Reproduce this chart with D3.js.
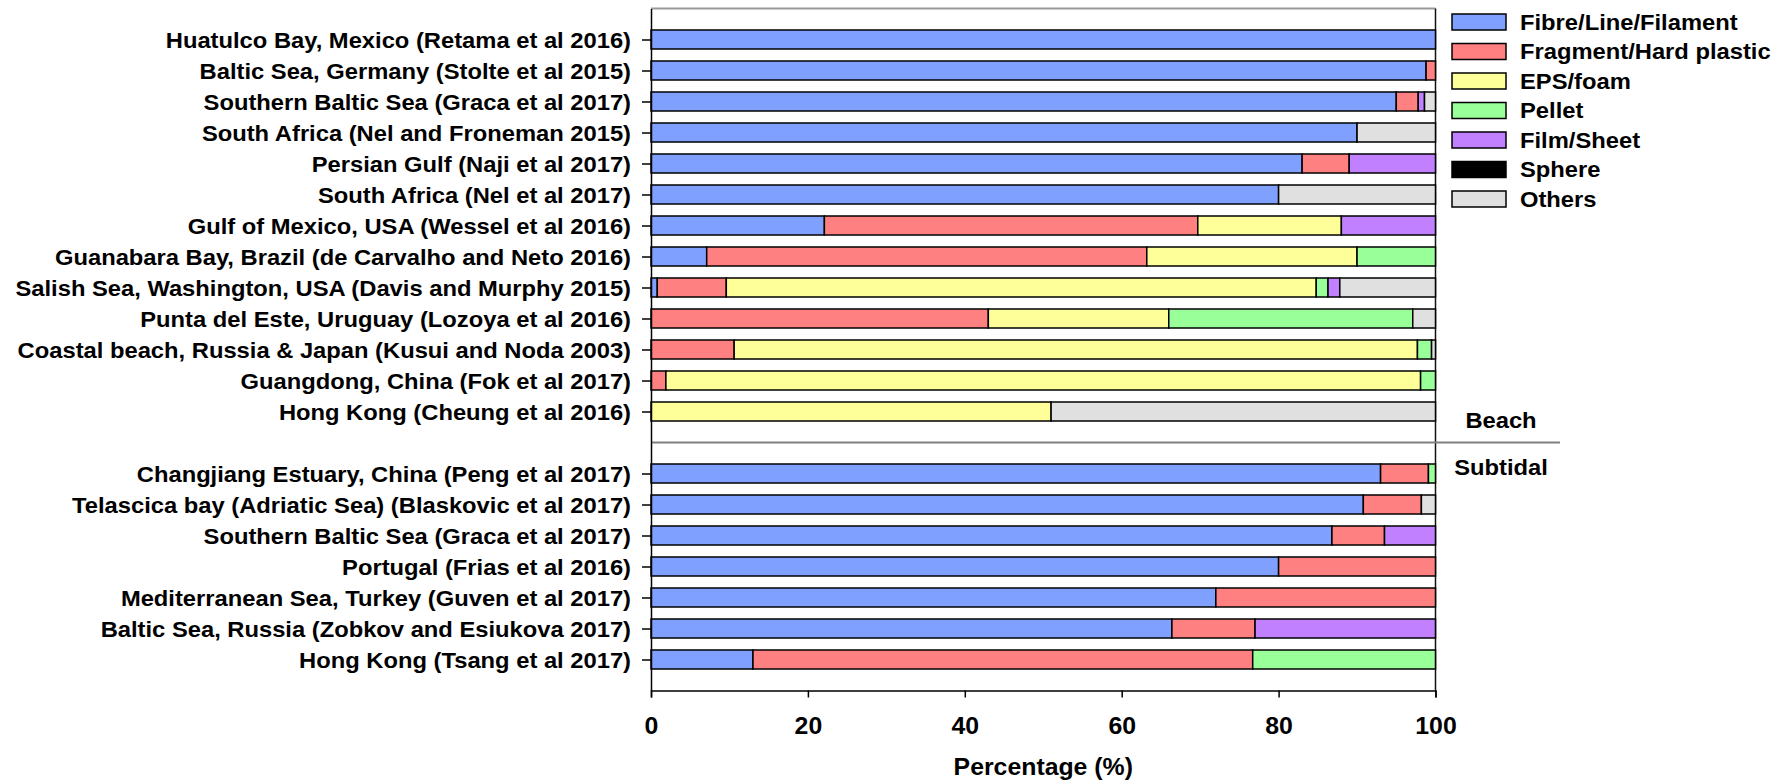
<!DOCTYPE html>
<html>
<head>
<meta charset="utf-8">
<script src="https://cdn.jsdelivr.net/npm/d3@7"></script>
<style>
  html, body { margin: 0; padding: 0; background: #fff; }
  svg { display: block; }
  text { font-family: "Liberation Sans", Arial, Helvetica, sans-serif; font-weight: bold; fill: #000; }
</style>
</head>
<body>
<svg id="chart" width="1788" height="780"></svg>
<script>
// Study locations (top to bottom): 13 beach surveys, then 7 subtidal surveys
const categories = [
  "Huatulco Bay, Mexico (Retama et al 2016)",
  "Baltic Sea, Germany (Stolte et al 2015)",
  "Southern Baltic Sea (Graca et al 2017)",
  "South Africa (Nel and Froneman 2015)",
  "Persian Gulf (Naji et al 2017)",
  "South Africa (Nel et al 2017)",
  "Gulf of Mexico, USA (Wessel et al 2016)",
  "Guanabara Bay, Brazil (de Carvalho and Neto 2016)",
  "Salish Sea, Washington, USA (Davis and Murphy 2015)",
  "Punta del Este, Uruguay (Lozoya et al 2016)",
  "Coastal beach, Russia & Japan (Kusui and Noda 2003)",
  "Guangdong, China (Fok et al 2017)",
  "Hong Kong (Cheung et al 2016)",
  "Changjiang Estuary, China (Peng et al 2017)",
  "Telascica bay (Adriatic Sea) (Blaskovic et al 2017)",
  "Southern Baltic Sea (Graca et al 2017)",
  "Portugal (Frias et al 2016)",
  "Mediterranean Sea, Turkey (Guven et al 2017)",
  "Baltic Sea, Russia (Zobkov and Esiukova 2017)",
  "Hong Kong (Tsang et al 2017)"
];
const habitat = [
  "Beach","Beach","Beach","Beach","Beach","Beach","Beach","Beach","Beach","Beach","Beach","Beach","Beach",
  "Subtidal","Subtidal","Subtidal","Subtidal","Subtidal","Subtidal","Subtidal"
];

// Share of each microplastic shape (%)
const fibre    = [100, 98.8, 95, 90, 83, 80, 22.1, 7.1, 0.8, 0, 0, 0, 0,   93, 90.8, 86.8, 80, 72, 66.4, 13];
const fragment = [0, 1.2, 2.8, 0, 6, 0, 47.6, 56.1, 8.8, 43, 10.6, 1.9, 0,  6.1, 7.4, 6.7, 20, 28, 10.6, 63.7];
const eps      = [0, 0, 0, 0, 0, 0, 18.3, 26.8, 75.2, 23, 87.1, 96.2, 51,   0, 0, 0, 0, 0, 0, 0];
const pellet   = [0, 0, 0, 0, 0, 0, 0, 10, 1.5, 31.1, 1.8, 1.9, 0,         0.9, 0, 0, 0, 0, 0, 23.3];
const film     = [0, 0, 0.8, 0, 11, 0, 12, 0, 1.5, 0, 0, 0, 0,             0, 0, 6.5, 0, 0, 23, 0];
const sphere   = [0, 0, 0, 0, 0, 0, 0, 0, 0, 0, 0, 0, 0,                   0, 0, 0, 0, 0, 0, 0];
const others   = [0, 0, 1.4, 10, 0, 20, 0, 0, 12.2, 2.9, 0.5, 0, 49,       0, 1.8, 0, 0, 0, 0, 0];

const seriesNames  = ["Fibre/Line/Filament", "Fragment/Hard plastic", "EPS/foam", "Pellet", "Film/Sheet", "Sphere", "Others"];
const seriesValues = [fibre, fragment, eps, pellet, film, sphere, others];
const seriesColors = ["#80a0ff", "#ff8080", "#ffff99", "#99ff99", "#c080ff", "#000000", "#e0e0e0"];

const xTicks = [0, 20, 40, 60, 80, 100];

// ---- layout ----
const svg = d3.select("#chart");
const plotLeft = 651, plotRight = 1435.5, plotTop = 8.5, plotBottom = 690.5;
const xStretch = 1.08;          // horizontally widened lettering
const fontSize = 22;            // row labels, legend, habitat labels
const axisFontSize = 23;        // tick numbers and axis title

// one row slot per study, with an empty slot separating the two habitats
const slotOf = i => habitat[i] === "Beach" ? i : i + 1;
const dividerSlot = habitat.filter(h => h === "Beach").length;

const x = d3.scaleLinear().domain([0, 100]).range([plotLeft, plotRight]);
const y = d3.scaleLinear().domain([-1, categories.length + 1]).range([plotTop, plotBottom]);
const barH = 19;

// rows for stacking
const rows = categories.map((c, i) => {
  const r = { index: i };
  seriesNames.forEach((s, k) => r[s] = seriesValues[k][i]);
  return r;
});
const stacked = d3.stack().keys(seriesNames)(rows);

// plot frame: grey top edge, dark right edge
svg.append("line")
  .attr("x1", plotLeft).attr("x2", plotRight).attr("y1", plotTop).attr("y2", plotTop)
  .attr("stroke", "#999").attr("stroke-width", 2);
svg.append("line")
  .attr("x1", plotRight).attr("x2", plotRight).attr("y1", plotTop).attr("y2", plotBottom)
  .attr("stroke", "#111").attr("stroke-width", 1.5);

// habitat divider
svg.append("line")
  .attr("x1", plotLeft).attr("x2", 1560)
  .attr("y1", y(dividerSlot)).attr("y2", y(dividerSlot))
  .attr("stroke", "#808080").attr("stroke-width", 2);

// stacked bars
const layers = svg.append("g").selectAll("g")
  .data(stacked)
  .join("g")
  .attr("fill", (d, k) => seriesColors[k]);

layers.selectAll("rect")
  .data(d => d.filter(seg => seg[1] - seg[0] > 0))
  .join("rect")
  .attr("x", d => x(d[0]))
  .attr("width", d => x(d[1]) - x(d[0]))
  .attr("y", d => y(slotOf(d.data.index)) - barH / 2)
  .attr("height", barH)
  .attr("stroke", "#000")
  .attr("stroke-width", 1.5);

// x axis
const xAxis = svg.append("g")
  .attr("transform", `translate(0,${plotBottom})`)
  .call(d3.axisBottom(x).tickValues(xTicks).tickSize(7).tickSizeOuter(7).tickFormat(d3.format("d")));
xAxis.select(".domain").attr("stroke", "#000").attr("stroke-width", 1.5);
xAxis.selectAll(".tick line").attr("stroke", "#000").attr("stroke-width", 1.5);
xAxis.attr("font-size", null).attr("font-family", null);
xAxis.selectAll(".tick text")
  .attr("y", null).attr("dy", null)
  .attr("transform", `translate(0,43) scale(${xStretch},1)`)
  .attr("fill", "#000")
  .style("font-size", axisFontSize + "px");

// y axis with study labels
const yAxis = svg.append("g")
  .attr("transform", `translate(${plotLeft},0)`)
  .call(d3.axisLeft(y)
    .tickValues(categories.map((c, i) => slotOf(i)))
    .tickFormat(s => categories[s < dividerSlot ? s : s - 1])
    .tickSize(9).tickSizeOuter(0));
yAxis.select(".domain").attr("stroke", "#000").attr("stroke-width", 1.5);
yAxis.selectAll(".tick line").attr("stroke", "#000").attr("stroke-width", 1.5);
yAxis.attr("font-size", null).attr("font-family", null);
yAxis.selectAll(".tick text")
  .attr("x", null).attr("dy", null)
  .attr("transform", `translate(-20,7.8) scale(${xStretch},1)`)
  .attr("text-anchor", "end")
  .attr("fill", "#000")
  .style("font-size", fontSize + "px");

// x axis title
svg.append("text")
  .attr("transform", `translate(${(plotLeft + plotRight) / 2},775) scale(${xStretch},1)`)
  .attr("text-anchor", "middle")
  .style("font-size", axisFontSize + "px")
  .text("Percentage (%)");

// habitat labels
const habitatNames = ["Beach", "Subtidal"];
svg.append("g").selectAll("text")
  .data(habitatNames)
  .join("text")
  .attr("transform", (d, k) => `translate(1501,${k === 0 ? y(dividerSlot) - 15 : y(dividerSlot) + 32}) scale(${xStretch},1)`)
  .attr("text-anchor", "middle")
  .style("font-size", fontSize + "px")
  .text(d => d);

// legend
const legend = svg.append("g").attr("transform", "translate(1452,22)");
const item = legend.selectAll("g")
  .data(seriesNames)
  .join("g")
  .attr("transform", (d, k) => `translate(0,${k * 29.5})`);
item.append("rect")
  .attr("x", 0).attr("y", -8).attr("width", 54).attr("height", 16)
  .attr("fill", (d, k) => seriesColors[k])
  .attr("stroke", "#000").attr("stroke-width", 1.5);
item.append("text")
  .attr("transform", `translate(68,7.8) scale(${xStretch},1)`)
  .style("font-size", fontSize + "px")
  .text(d => d);
</script>
</body>
</html>
